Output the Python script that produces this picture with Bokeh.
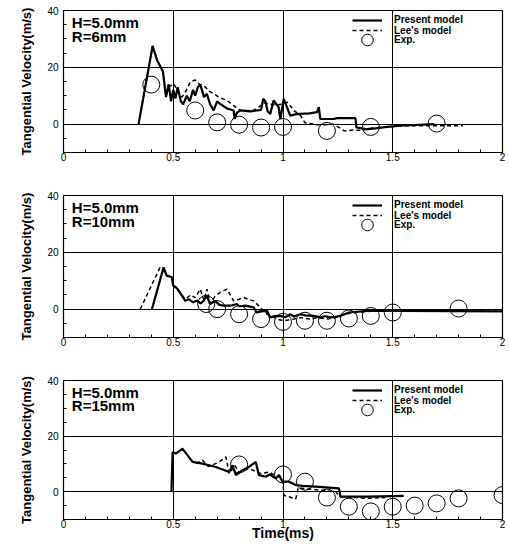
from bokeh.plotting import figure
from bokeh.models import Legend, LegendItem, Label, FixedTicker, Range1d
from bokeh.layouts import column
from bokeh.embed import file_html
from bokeh.resources import INLINE

# ---- axes ----
x_ticks = [0, 0.5, 1, 1.5, 2]
x_tick_labels = ["0", "0.5", "1", "1.5", "2"]
y_ticks = [0, 20, 40]
y_tick_labels = ["0", "20", "40"]
y_label = "Tangential Velocity(m/s)"
x_label = "Time(ms)"
series_names = ["Present model", "Lee's model", "Exp."]
h_text = "H=5.0mm"

# ---- R = 6 mm ----
r6_label = "R=6mm"
r6_present_t = [0.342, 0.406, 0.426, 0.453, 0.467, 0.479, 0.49, 0.50, 0.51, 0.52, 0.535, 0.545,
                0.562, 0.575, 0.59, 0.60, 0.612, 0.623, 0.64, 0.653, 0.668, 0.684, 0.70, 0.714,
                0.745, 0.775, 0.78, 0.79, 0.805, 0.85, 0.90, 0.91, 0.92, 0.93, 0.942, 0.957,
                0.97, 0.98, 0.988, 1.003, 1.018, 1.033, 1.06, 1.079, 1.12, 1.155, 1.163, 1.17,
                1.20, 1.231, 1.246, 1.29, 1.33, 1.335, 1.383, 1.42, 1.474, 1.55, 1.69]
r6_present_v = [0, 27.5, 22.6, 18.5, 9.5, 14, 8, 12, 9, 13, 8, 7,
                10, 8, 12, 10, 13, 14, 9.5, 10.7, 7, 4.8, 8, 7.1,
                5.5, 4.8, 1.8, 4, 4.8, 4.5, 5, 8.9, 8, 4.5, 3.6, 8.3,
                7, 6, 1.8, 8.9, 6, 3, 3.5, 3.6, 3.8, 4.2, 6, 1.8,
                1.8, 1.8, 2.1, 2.1, 2.1, -1.2, -1.8, -1.5, -1, -0.5, 0]
r6_lee_t = [0.342, 0.406, 0.426, 0.453, 0.467, 0.48, 0.50, 0.52, 0.54, 0.56, 0.578, 0.60,
            0.62, 0.646, 0.665, 0.684, 0.707, 0.745, 0.775, 0.805, 0.866, 0.89, 0.912, 0.94,
            0.97, 1.0, 1.02, 1.05, 1.08, 1.10, 1.155, 1.20, 1.23, 1.28, 1.32, 1.36, 1.40,
            1.53, 1.82]
r6_lee_v = [0, 27.5, 22.6, 18.5, 10, 13, 14.3, 12, 9.5, 12, 14.9, 15.5,
            14, 13.1, 11.5, 10.7, 9.5, 8.3, 6.5, 4.8, 4.8, 6, 7.5, 7,
            6.8, 7, 7.7, 4.8, 3, 0.5, -0.2, -0.2, 0, -2.4, -2.1, -2.2, -1.5,
            -0.6, -0.6]
r6_exp_t = [0.4, 0.6, 0.7, 0.8, 0.9, 1.0, 1.2, 1.4, 1.7]
r6_exp_v = [13.9, 4.8, 0.6, -0.2, -1.2, -1.0, -2.4, -1.0, 0.2]

# ---- R = 10 mm ----
r10_label = "R=10mm"
r10_present_t = [0.403, 0.456, 0.47, 0.494, 0.50, 0.515, 0.53, 0.545, 0.555, 0.57, 0.59, 0.608,
                 0.625, 0.638, 0.653, 0.668, 0.69, 0.71, 0.73, 0.76, 0.79, 0.80, 0.83, 0.866,
                 0.88, 0.90, 0.927, 0.942, 0.96, 0.988, 1.01, 1.033, 1.05, 1.079, 1.10, 1.14,
                 1.17, 1.19, 1.216, 1.24, 1.26, 1.30, 1.383, 1.535, 2.0]
r10_present_v = [0, 14.7, 11.8, 11.2, 8.2, 7.5, 5.9, 4, 2.9, 3.5, 2.4, 3,
                 2, 2.9, 4.7, 1.8, 2.9, 1.5, 1.2, 1.2, 1.8, 1.0, 1.2, 0.6,
                 -1.2, -0.8, -0.6, -2.9, -2.5, -2.4, -2.9, -1.8, -2.6, -1.8, -2.2, -2.4,
                 -2.9, -2.5, -2.9, -2.7, -2.4, -1.2, -0.6, -0.6, -0.8]
r10_lee_t = [0.35, 0.44, 0.456, 0.47, 0.494, 0.50, 0.53, 0.555, 0.58, 0.60, 0.623, 0.64,
             0.653, 0.67, 0.69, 0.714, 0.73, 0.745, 0.775, 0.80, 0.82, 0.84, 0.866, 0.897,
             0.927, 0.95, 0.973, 1.003, 1.05, 1.08, 1.125, 1.16, 1.2, 1.24, 1.277, 1.33,
             1.4, 2.0]
r10_lee_v = [0, 14.7, 13.5, 11.8, 11.2, 8.2, 5.9, 3.5, 5, 4, 7, 3,
             7, 2, 4.5, 5.9, 6.5, 7, 2.9, 3.5, 4.1, 3.5, 2.9, 0.6,
             -1.8, -2.5, -3.5, -4.1, -3.5, -3.0, -3.5, -3.0, -3.5, -3.0, -1.8, -1.2,
             -0.8, -0.8]
r10_exp_t = [0.65, 0.7, 0.8, 0.9, 1.0, 1.1, 1.2, 1.3, 1.4, 1.5, 1.8]
r10_exp_v = [1.8, 0, -1.8, -3.5, -4.5, -4.1, -4.1, -3.3, -2.4, -1.2, 0.2]

# ---- R = 15 mm ----
r15_label = "R=15mm"
r15_present_t = [0.492, 0.497, 0.512, 0.542, 0.588, 0.633, 0.694, 0.755, 0.77, 0.785, 0.815,
                 0.845, 0.876, 0.89, 0.92, 0.94, 0.967, 0.982, 0.997, 1.027, 1.058, 1.088,
                 1.148, 1.255, 1.262, 1.39, 1.55]
r15_present_v = [0.2, 14.3, 13.7, 15.5, 10.7, 10.1, 8.9, 7.1, 9.5, 6, 7.7,
                 8.9, 10.7, 6, 5.4, 6.2, 4.8, 6, 3.6, 3.6, 2.4, 2.1,
                 1.8, 1.2, -1.8, -1.8, -1.5]
r15_lee_t = [0.58, 0.60, 0.633, 0.66, 0.69, 0.709, 0.74, 0.755, 0.78, 0.80, 0.845, 0.87,
             0.90, 0.936, 0.96, 0.997, 1.005, 1.027, 1.058, 1.07, 1.088, 1.164, 1.24, 1.26,
             1.39, 1.467]
r15_lee_v = [11.5, 10, 11.3, 9, 10, 10.7, 12.5, 6.5, 9.5, 7, 8.3, 7.5,
             6.5, 7.1, 6, 4.8, -1.4, -1.8, -2.6, 1.5, 1.2, 0.6, 0, -1.8,
             -2.4, -2.1]
r15_exp_t = [0.8, 1.0, 1.1, 1.2, 1.3, 1.4, 1.5, 1.6, 1.7, 1.8, 2.0]
r15_exp_v = [9.8, 6.2, 3.6, -2.1, -5.4, -7.1, -5.4, -5.0, -4.2, -2.4, -1.2]

FONT = "Liberation Sans"
FRAME_W = 439


def make_panel(r_label, pt, pv, lt, lv, et, ev, frame_h, with_xlabel):
    p = figure(frame_width=FRAME_W, frame_height=frame_h,
               min_border_left=63, min_border_right=7, min_border_top=10,
               min_border_bottom=29 if with_xlabel else 33,
               x_range=Range1d(0, 2), y_range=Range1d(-10, 40),
               output_backend="svg", toolbar_location=None,
               background_fill_color="white", border_fill_color="white")
    p.outline_line_color = "black"
    p.outline_line_width = 1.2

    # grid: only the interior reference lines, drawn solid black
    p.xgrid.ticker = FixedTicker(ticks=[0.5, 1, 1.5])
    p.ygrid.ticker = FixedTicker(ticks=[0, 20])
    for g in (p.xgrid, p.ygrid):
        g.grid_line_color = "black"
        g.grid_line_alpha = 1.0
        g.grid_line_width = 1

    p.xaxis.ticker = FixedTicker(ticks=x_ticks, minor_ticks=[i / 10 for i in range(21)])
    p.xaxis.major_label_overrides = dict(zip(x_ticks, x_tick_labels))
    p.yaxis.ticker = FixedTicker(ticks=y_ticks, minor_ticks=list(range(-10, 41, 5)))
    p.yaxis.major_label_overrides = dict(zip(y_ticks, y_tick_labels))
    for ax in (p.xaxis, p.yaxis):
        ax.axis_line_color = "black"
        ax.major_tick_in = 4
        ax.major_tick_out = 0
        ax.minor_tick_in = 3
        ax.minor_tick_out = 0
        ax.major_tick_line_color = "black"
        ax.minor_tick_line_color = "black"
        ax.major_label_text_font = FONT
        ax.major_label_text_font_size = "10px"
        ax.major_label_text_color = "black"
    p.xaxis.major_label_standoff = 0
    p.yaxis.major_label_standoff = 5

    p.yaxis.axis_label = y_label
    p.yaxis.axis_label_text_font = FONT
    p.yaxis.axis_label_text_font_size = "13px"
    p.yaxis.axis_label_text_font_style = "bold"
    p.yaxis.axis_label_text_color = "black"
    p.yaxis.axis_label_standoff = 10
    if with_xlabel:
        p.xaxis.axis_label = x_label
        p.xaxis.axis_label_text_font = FONT
        p.xaxis.axis_label_text_font_size = "14px"
        p.xaxis.axis_label_text_font_style = "bold"
        p.xaxis.axis_label_text_color = "black"
        p.xaxis.axis_label_standoff = -6

    r_lee = p.line(lt, lv, line_color="black", line_width=1.5, line_dash="4 3")
    r_pres = p.line(pt, pv, line_color="black", line_width=2.2)
    r_exp = p.scatter(et, ev, marker="circle", size=17, fill_color=None,
                      line_color="black", line_width=1)

    # case annotation in the upper left corner
    for txt, yv in ((h_text, 35.6), (r_label, 31.0)):
        p.add_layout(Label(x=0.038, y=yv, text=txt, text_baseline="middle",
                           text_font=FONT, text_font_size="15px",
                           text_font_style="bold", text_color="black"))

    # key block in the upper right corner, one row per series;
    # legend location is the bottom-left corner of each key row
    rows = ((r_pres, series_names[0], frame_h - 15, 10),
            (r_lee, series_names[1], frame_h - 25.5, 10),
            (r_exp, series_names[2], frame_h - 44, 29))
    for rend, name, ybot, gh in rows:
        lg = Legend(items=[LegendItem(label=name, renderers=[rend])],
                    location=(289, ybot), padding=0, margin=0, spacing=0,
                    glyph_width=30, glyph_height=gh, label_height=10,
                    label_standoff=12, label_text_font=FONT,
                    label_text_font_size="10px", label_text_font_style="bold",
                    label_text_color="black", border_line_color=None,
                    background_fill_alpha=0)
        p.add_layout(lg)
    return p


p1 = make_panel(r6_label, r6_present_t, r6_present_v, r6_lee_t, r6_lee_v,
                r6_exp_t, r6_exp_v, 142, False)
p2 = make_panel(r10_label, r10_present_t, r10_present_v, r10_lee_t, r10_lee_v,
                r10_exp_t, r10_exp_v, 142, False)
p3 = make_panel(r15_label, r15_present_t, r15_present_v, r15_lee_t, r15_lee_v,
                r15_exp_t, r15_exp_v, 139, True)

layout = column(p1, p2, p3, spacing=0)
open("out.html", "w").write(file_html(layout, INLINE))
